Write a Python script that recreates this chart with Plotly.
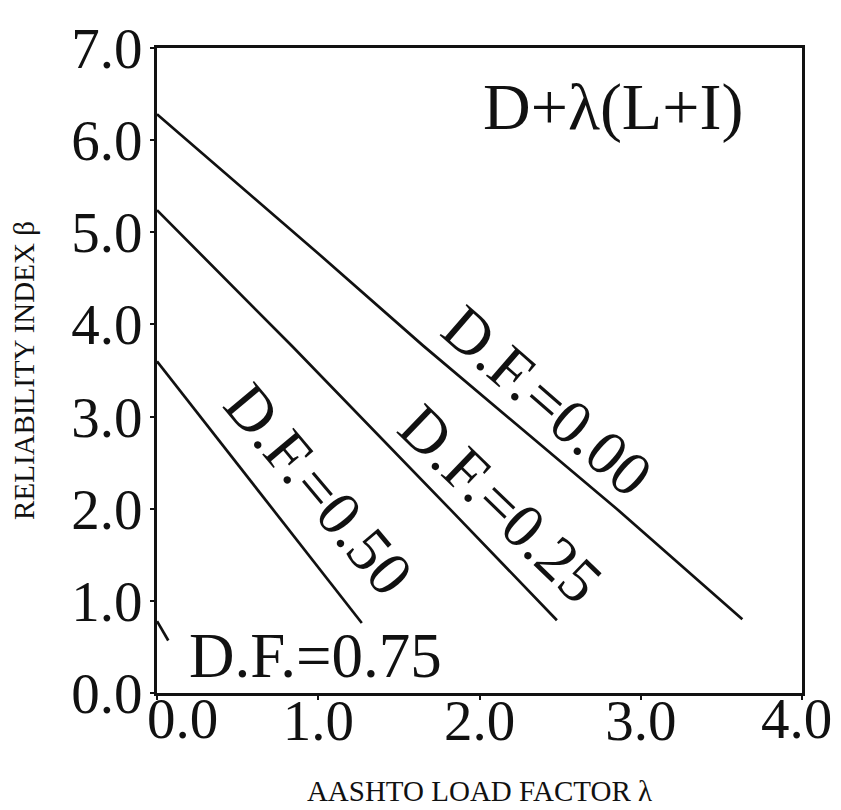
import plotly.graph_objects as go

# ---- data ----
df000_x = [0.0, 1.0, 1.65, 2.85, 3.63]
df000_y = [6.28, 4.77, 3.77, 2.00, 0.80]
df025_x = [0.0, 0.84, 1.82, 2.48]
df025_y = [5.24, 3.76, 1.99, 0.79]
df050_x = [0.0, 1.27]
df050_y = [3.60, 0.76]
df075_x = [0.0, 0.07]
df075_y = [0.78, 0.57]

x_tickvals = [0, 1, 2, 3, 4]
x_ticktext = ["0.0", "1.0", "2.0", "3.0", "4.0"]
y_tickvals = [0, 1, 2, 3, 4, 5, 6, 7]
y_ticktext = ["0.0", "1.0", "2.0", "3.0", "4.0", "5.0", "6.0", "7.0"]

curve_labels = ["D.F.=0.00", "D.F.=0.25", "D.F.=0.50", "D.F.=0.75"]
label_x = [2.42, 2.13, 1.00, 0.98]
label_y = [3.17, 2.05, 2.21, 0.40]
label_angle = [41, 44, 50, 0]

FONT = "Liberation Serif, Times New Roman, serif"
INK = "#111111"
TICKSIZE = 57

fig = go.Figure()
for xs, ys in [(df000_x, df000_y), (df025_x, df025_y), (df050_x, df050_y), (df075_x, df075_y)]:
    fig.add_trace(go.Scatter(x=xs, y=ys, mode="lines",
                             line=dict(color=INK, width=2.7), showlegend=False,
                             hoverinfo="skip"))

for t, lx, ly, ang in zip(curve_labels, label_x, label_y, label_angle):
    fig.add_annotation(x=lx, y=ly, text=t, showarrow=False, textangle=ang,
                       xanchor="center", yanchor="middle",
                       font=dict(family=FONT, size=63, color=INK))

fig.add_annotation(x=2.83, y=6.36, text="D+λ(L+I)", showarrow=False,
                   xanchor="center", yanchor="middle",
                   font=dict(family=FONT, size=66, color=INK))

# the two end labels of the x axis are nudged inward in the original
# (the first clears the y-axis "0.0", the last stays inside the page)
axis_tick_labels = ["", x_ticktext[1], x_ticktext[2], x_ticktext[3], ""]
fig.add_annotation(x=x_tickvals[0], y=0, xref="x", yref="y", text=x_ticktext[0],
                   showarrow=False, xanchor="center", yanchor="top",
                   xshift=25, yshift=8,
                   font=dict(family=FONT, size=TICKSIZE, color=INK))
fig.add_annotation(x=x_tickvals[-1], y=0, xref="x", yref="y", text=x_ticktext[-1],
                   showarrow=False, xanchor="center", yanchor="top",
                   xshift=-6, yshift=8,
                   font=dict(family=FONT, size=TICKSIZE, color=INK))

fig.update_layout(
    width=833, height=802,
    margin=dict(l=149, r=39, t=40, b=117),
    paper_bgcolor="white", plot_bgcolor="white",
    font=dict(family=FONT, color=INK),
)
fig.update_xaxes(range=[0, 4], tickvals=x_tickvals, ticktext=axis_tick_labels,
                 automargin=False,
                 showline=True, linewidth=3, linecolor=INK, mirror=True,
                 ticks="outside", ticklen=4, tickwidth=2, tickcolor=INK,
                 showgrid=False, zeroline=False, ticklabelstandoff=-28,
                 tickfont=dict(family=FONT, size=TICKSIZE, color=INK),
                 title=dict(text="AASHTO LOAD FACTOR λ", standoff=30,
                            font=dict(family=FONT, size=29, color=INK)))
fig.update_yaxes(range=[0, 7], tickvals=y_tickvals, ticktext=y_ticktext,
                 automargin=False,
                 showline=True, linewidth=3, linecolor=INK, mirror=True,
                 ticks="outside", ticklen=4, tickwidth=2, tickcolor=INK,
                 showgrid=False, zeroline=False, ticklabelstandoff=-4,
                 tickfont=dict(family=FONT, size=TICKSIZE, color=INK),
                 title=dict(text="RELIABILITY INDEX β", standoff=32,
                            font=dict(family=FONT, size=29, color=INK)))

fig.write_html("out.html")
